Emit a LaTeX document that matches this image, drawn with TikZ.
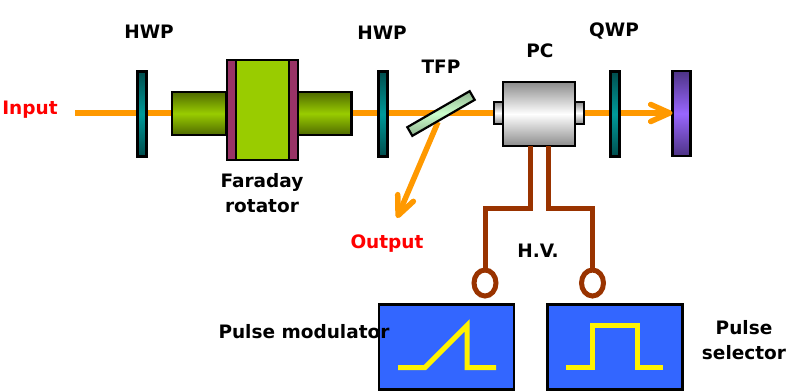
\documentclass[tikz,border=0pt]{standalone}
\usepackage{fontspec}
\setmainfont{DejaVu Sans}
\usetikzlibrary{arrows.meta,shapes.geometric}
\definecolor{beamc}{HTML}{FF9900}
\definecolor{wirec}{HTML}{993300}
\definecolor{flangec}{HTML}{993366}
\definecolor{rotc}{HTML}{99CC00}
\definecolor{rotd}{HTML}{4F6A00}
\definecolor{platec}{HTML}{009999}
\definecolor{plated}{HTML}{004D4D}
\definecolor{mirrorc}{HTML}{9966FF}
\definecolor{mirrord}{HTML}{4D3385}
\definecolor{boxc}{HTML}{3366FF}
\definecolor{tfpc}{HTML}{CCFFCC}
\definecolor{tfpd}{HTML}{8FB38F}
\definecolor{pcd}{HTML}{8C8C8C}
\begin{document}
\begin{tikzpicture}[x=1pt,y=-1pt,
      part/.style={draw=black,line width=2.2pt,inner sep=0pt,outer sep=0pt},
      plate/.style={part,minimum width=9pt,minimum height=85pt,top color=plated,bottom color=plated,middle color=platec},
      rodpart/.style={part,minimum width=54pt,minimum height=43pt,top color=rotd,bottom color=rotd,middle color=rotc},
      flange/.style={part,fill=flangec,minimum width=9pt,minimum height=100pt},
      pcpart/.style={part,top color=pcd,bottom color=pcd,middle color=white},
      gen/.style={part,fill=boxc,minimum width=135pt,minimum height=85pt},
      term/.style={ellipse,draw=wirec,line width=5pt,inner sep=0pt,minimum width=22pt,minimum height=26pt},
      beam/.style={beamc,line width=5.5pt},
      wire/.style={wirec,line width=5pt},
      pulse/.style={yellow,line width=5pt},
      lbl/.style={font=\fontsize{18.5}{24.5}\selectfont\bfseries,align=center},
      red lbl/.style={lbl,text=red}]
    \useasboundingbox (0,0) rectangle (788,391);
    % --- beam, under the parts ---
    \coordinate (beamstart) at (75,113);
    \node[part,top color=mirrord,bottom color=mirrord,middle color=mirrorc,minimum width=18pt,minimum height=85pt] (mirror) at (681.5,113.5) {};
    \draw[beam,-{Straight Barb[length=19pt,width=17pt,line cap=round,line join=round]}] (beamstart) -- (mirror.west |- beamstart);
    \coordinate (tfpexit) at (438,122);
    \coordinate (outend) at (397,218);
    \draw[beam,-{Straight Barb[length=19pt,width=17pt,line cap=round,line join=round]}] (tfpexit) -- (outend);
    % --- wave plates ---
    \foreach \x/\n in {142/hwpa, 383/hwpb, 615/qwp}{
      \node[plate] (\n) at (\x,114) {};
    }
    % --- Faraday rotator ---
    \node[rodpart] (rodl) at (199,113.5) {};
    \node[rodpart] (rodr) at (324.5,113.5) {};
    \node[part,fill=rotc,minimum width=53pt,minimum height=100pt] (rotcore) at (262.5,110) {};
    \node[flange] (flangel) at (231.5,110) {};
    \node[flange] (flanger) at (293.5,110) {};
    % --- polarizer and Pockels cell ---
    \node[part,rotate=30,minimum width=72pt,minimum height=10pt,top color=tfpd,bottom color=tfpd,middle color=tfpc] (tfp) at (441,113.5) {};
    \node[pcpart,minimum width=9pt,minimum height=22pt] (pcl) at (498.5,113) {};
    \node[pcpart,minimum width=9pt,minimum height=22pt] (pcr) at (579.5,113) {};
    \node[pcpart,minimum width=72pt,minimum height=64pt] (pc) at (539,114) {};
    % --- drivers ---
    \node[gen] (modbox) at (446.5,347) {};
    \node[gen] (selbox) at (615,347) {};
    \node[term] (terml) at (485,283) {};
    \node[term] (termr) at (592.5,283) {};
    \draw[wire] ([xshift=-9pt]pc.south) -- ++(0,62) -| (terml.north);
    \draw[wire] ([xshift=9pt]pc.south) -- ++(0,62) -| (termr.north);
    \draw[pulse] (398,367.5)--(425,367.5)--(467,325.5)--(467,367.5)--(496,367.5);
    \draw[pulse] (566,367.5)--(592,367.5)--(592,325.5)--(637,325.5)--(637,367.5)--(663,367.5);
    % --- labels ---
    \foreach \x/\y/\t/\n in {149/32/HWP/la, 382/33/HWP/lb, 441/67/TFP/lc, 540/51/PC/ld, 614/31/QWP/le,
        538/251/H.V./lf, 304/332/Pulse modulator/lg}{
      \node[lbl] (\n) at (\x,\y) {\t};
    }
    \node[lbl] (lrot) at (262,193) {Faraday\\rotator};
    \node[lbl] (lsel) at (744,340) {Pulse\\selector};
    \node[red lbl] (linput) at (30,110) {Input};
    \node[red lbl] (loutput) at (387,244) {Output};
  \end{tikzpicture}
\end{document}
